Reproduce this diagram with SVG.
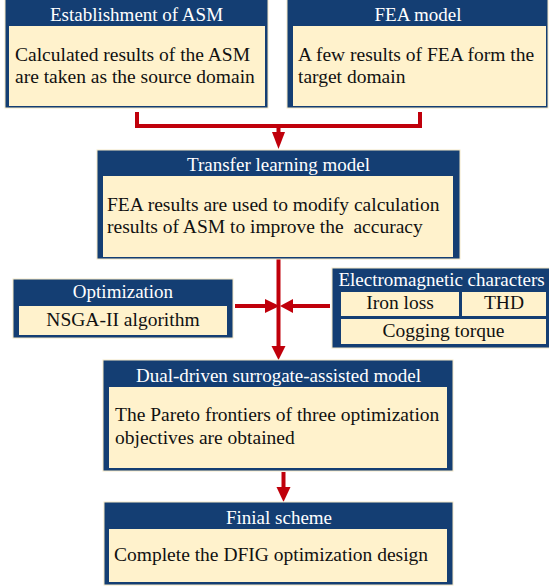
<svg xmlns="http://www.w3.org/2000/svg" width="549" height="586" viewBox="0 0 549 586">
<style>
.outer{fill:#143e73;stroke:#f3e7c6;stroke-width:1}
.inner{fill:#fff2cc;stroke:none}
.sub{fill:#fff2cc;stroke:none}
.title{font-family:"Liberation Serif","Times New Roman",serif;font-size:19px;fill:#ffffff;text-anchor:middle}
.body{font-family:"Liberation Serif","Times New Roman",serif;font-size:19.5px;fill:#111111}
.mid{text-anchor:middle}
.line{fill:none;stroke:#c0000b;stroke-width:4}
.head{fill:#c0000b;stroke:none}
</style>
<rect width="549" height="586" fill="#ffffff"/>
<g id="connectors">
<path class="line" d="M137,112 V126 H420 V112"/>
<path class="line" d="M278.5,126 V134"/>
<polygon class="head" points="272,132 285,132 278.5,149"/>
<path class="line" d="M278.5,259 V348"/>
<polygon class="head" points="271.5,346 285.5,346 278.5,360"/>
<path class="line" d="M235,306 H267"/>
<polygon class="head" points="265,299 265,313 279.5,306"/>
<path class="line" d="M330,306 H291"/>
<polygon class="head" points="293,299 293,313 280,306"/>
<path class="line" d="M283.5,472 V489"/>
<polygon class="head" points="276.5,487 290.5,487 283.5,502"/>
</g>
<g id="asm">
<rect class="outer" x="5" y="-2" width="263" height="110"/>
<rect class="inner" x="9" y="26" width="256" height="80"/>
<text class="title" x="136.5" y="21">Establishment of ASM</text>
<text class="body" x="15" y="61">Calculated results of the ASM</text>
<text class="body" x="15" y="83">are taken as the source domain</text>
</g>
<g id="fea">
<rect class="outer" x="287" y="-2" width="261" height="110"/>
<rect class="inner" x="293" y="26" width="253" height="80"/>
<text class="title" x="418" y="21">FEA model</text>
<text class="body" x="298" y="61">A few results of FEA form the</text>
<text class="body" x="298" y="83">target domain</text>
</g>
<g id="transfer">
<rect class="outer" x="97" y="150" width="363" height="109"/>
<rect class="inner" x="103" y="176" width="350" height="81"/>
<text class="title" x="278.5" y="171">Transfer learning model</text>
<text class="body" x="107" y="211">FEA results are used to modify calculation</text>
<text class="body" x="107" y="233" xml:space="preserve">results of ASM to improve the  accuracy</text>
</g>
<g id="optimization">
<rect class="outer" x="13" y="279" width="220" height="59"/>
<rect class="inner" x="19" y="306" width="208" height="29"/>
<text class="title" x="123" y="298">Optimization</text>
<text class="body mid" x="123" y="326">NSGA-II algorithm</text>
</g>
<g id="electromagnetic">
<rect class="outer" x="332" y="268" width="220" height="80"/>
<text class="title" x="441.5" y="286">Electromagnetic characters</text>
<rect class="sub" x="341" y="292" width="118" height="24"/>
<rect class="sub" x="462" y="292" width="84" height="24"/>
<rect class="sub" x="341" y="319" width="205" height="25"/>
<text class="body mid" x="400" y="309">Iron loss</text>
<text class="body mid" x="504" y="309">THD</text>
<text class="body mid" x="443.5" y="337">Cogging torque</text>
</g>
<g id="dual">
<rect class="outer" x="103" y="360" width="350" height="111"/>
<rect class="inner" x="109" y="387" width="338" height="81"/>
<text class="title" x="278.5" y="382">Dual-driven surrogate-assisted model</text>
<text class="body" x="115" y="421">The Pareto frontiers of three optimization</text>
<text class="body" x="115" y="444">objectives are obtained</text>
</g>
<g id="final">
<rect class="outer" x="104" y="502" width="349" height="83"/>
<rect class="inner" x="109" y="529" width="338" height="53"/>
<text class="title" x="279" y="524">Finial scheme</text>
<text class="body" x="114" y="561">Complete the DFIG optimization design</text>
</g>
</svg>
